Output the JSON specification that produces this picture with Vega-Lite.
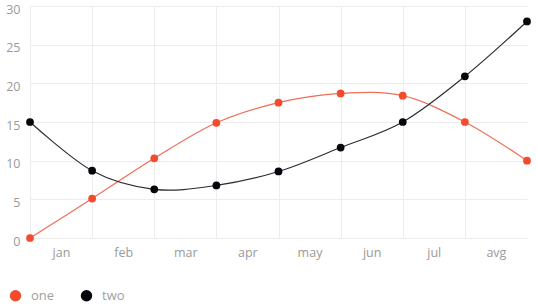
{
  "$schema": "https://vega.github.io/schema/vega-lite/v6.json",
  "autosize": {"type": "none"},
  "width": 497,
  "height": 232,
  "padding": {"left": 30, "top": 6, "right": 10, "bottom": 68},
  "background": "white",
  "config": {
    "view": {"stroke": null},
    "font": "Open Sans",
    "axis": {"labelColor": "#9a9a9a", "labelFont": "Open Sans", "labelFontSize": 12.5, "gridColor": "#ececec", "gridWidth": 1, "domain": false, "ticks": false, "title": null},
    "legend": {"labelFont": "Open Sans"}
  },
  "data": {
    "values": [
      {"i": 0, "series": "one", "v": 0},
      {"i": 1, "series": "one", "v": 5.1},
      {"i": 2, "series": "one", "v": 10.3},
      {"i": 3, "series": "one", "v": 14.9},
      {"i": 4, "series": "one", "v": 17.5},
      {"i": 5, "series": "one", "v": 18.7},
      {"i": 6, "series": "one", "v": 18.4},
      {"i": 7, "series": "one", "v": 15},
      {"i": 8, "series": "one", "v": 10},
      {"i": 0, "series": "two", "v": 15},
      {"i": 1, "series": "two", "v": 8.7},
      {"i": 2, "series": "two", "v": 6.3},
      {"i": 3, "series": "two", "v": 6.8},
      {"i": 4, "series": "two", "v": 8.6},
      {"i": 5, "series": "two", "v": 11.7},
      {"i": 6, "series": "two", "v": 15},
      {"i": 7, "series": "two", "v": 20.9},
      {"i": 8, "series": "two", "v": 28}
    ]
  },
  "encoding": {
    "x": {
      "field": "i", "type": "quantitative",
      "scale": {"domain": [0, 8], "nice": false, "zero": false},
      "axis": {
        "values": [0, 1, 2, 3, 4, 5, 6, 7],
        "labelOffset": 31,
        "labelPadding": 8,
        "labelOverlap": false,
        "labelBound": false,
        "labelFlush": false,
        "labelExpr": "['jan','feb','mar','apr','may','jun','jul','avg'][datum.value]"
      }
    },
    "y": {
      "field": "v", "type": "quantitative",
      "scale": {"domain": [0, 30], "nice": false},
      "axis": {"values": [0, 5, 10, 15, 20, 25, 30], "labelPadding": 10, "labelOffset": 3}
    }
  },
  "layer": [
    {
      "mark": {"type": "line", "interpolate": "cardinal", "strokeWidth": 1.2},
      "encoding": {
        "detail": {"field": "series"},
        "stroke": {"condition": {"test": "datum.series === 'one'", "value": "#ee6e58"}, "value": "#2e2e2e"}
      }
    },
    {
      "mark": {"type": "point", "filled": true, "size": 60, "opacity": 1},
      "encoding": {
        "color": {
          "field": "series", "type": "nominal",
          "scale": {"domain": ["one", "two"], "range": ["#f44a2e", "#05060c"]},
          "legend": {
            "orient": "none",
            "legendX": -21,
            "legendY": 283,
            "direction": "horizontal",
            "title": null,
            "symbolType": "circle",
            "symbolSize": 130,
            "symbolOpacity": 1,
            "labelColor": "#a0a0a0",
            "labelFontSize": 13,
            "labelOffset": 9,
            "columnPadding": 25
          }
        }
      }
    }
  ]
}
